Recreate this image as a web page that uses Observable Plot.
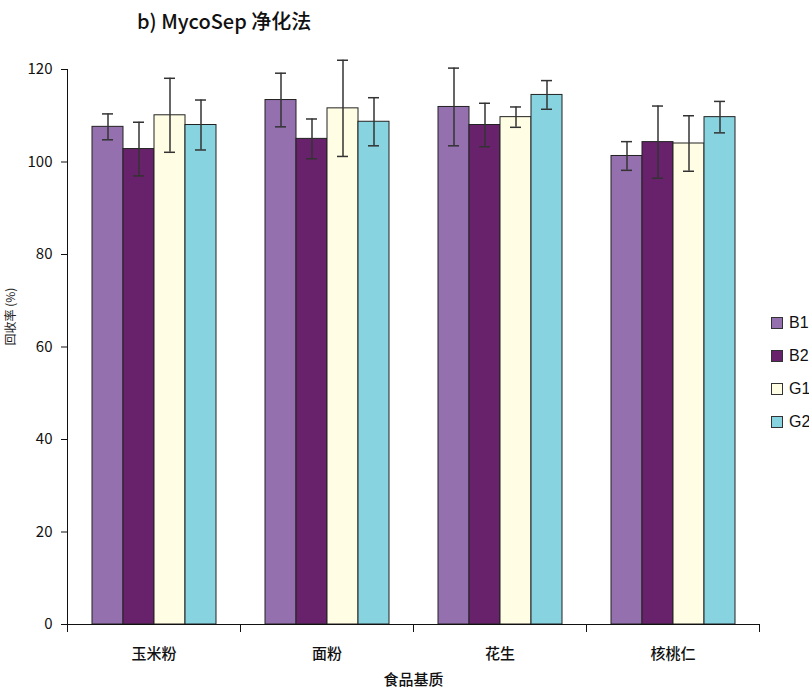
<!DOCTYPE html>
<html><head><meta charset="utf-8">
<script src="https://cdn.jsdelivr.net/npm/d3@7"></script>
<script src="https://cdn.jsdelivr.net/npm/@observablehq/plot@0.6"></script>
<style>
body{margin:0;background:#fff;font-family:"Liberation Sans Narrow","Liberation Sans","Noto Sans CJK SC",sans-serif;color:#111;}
#wrap{position:relative;width:809px;height:689px;overflow:hidden;}
#title{height:45px;box-sizing:border-box;padding-left:137px;padding-top:8px;font-size:20px;line-height:26px;font-weight:500;font-family:"Liberation Sans Narrow","Noto Sans CJK SC",sans-serif;}
#ylab{position:absolute;left:-36px;top:308px;width:90px;text-align:center;transform:rotate(-90deg);font-size:12px;font-family:"Noto Sans CJK SC",sans-serif;color:#222;}
#legend{position:absolute;left:771px;top:306px;font-size:16px;}
.row{display:flex;align-items:center;height:33px;}
.sw{width:10px;height:10px;border:1px solid #333;margin-right:6px;}
svg{display:block;}
</style></head>
<body>
<div id="wrap">
<div id="title">b) MycoSep 净化法</div>
<div id="chart"></div>
<div id="ylab">回收率 (%)</div>
<div id="legend"></div>
</div>
<script>
const categories = ["玉米粉", "面粉", "花生", "核桃仁"];
const series = ["B1", "B2", "G1", "G2"];
const colors = ["#9470ae", "#67226b", "#fffde3", "#87d4e0"];
const b1 = [107.6, 113.4, 111.9, 101.3];
const b2 = [102.8, 105.0, 108.0, 104.3];
const g1 = [110.1, 111.6, 109.7, 104.0];
const g2 = [108.0, 108.7, 114.5, 109.7];
const b1Err = [2.8, 5.8, 8.4, 3.1];
const b2Err = [5.8, 4.3, 4.7, 7.8];
const g1Err = [8.0, 10.4, 2.2, 6.0];
const g2Err = [5.4, 5.2, 3.1, 3.4];
const yTicks = [0, 20, 40, 60, 80, 100, 120];
const xTitle = "食品基质";

const vals = [b1, b2, g1, g2];
const errs = [b1Err, b2Err, g1Err, g2Err];
const data = [];
categories.forEach((c, i) => series.forEach((s, k) => data.push({cat: c, s, v: vals[k][i], e: errs[k][i]})));

const W = 809, H = 644, ML = 67, MR = 50;
const bw = (W - ML - MR) / categories.length;
const font = '"Liberation Sans Narrow","Noto Sans CJK SC",sans-serif';

const chart = Plot.plot({
  width: W, height: H,
  marginLeft: ML, marginRight: MR, marginTop: 24, marginBottom: 65,
  style: {fontFamily: font, fontSize: "15px", color: "#111", background: "#fff"},
  y: {domain: [0, 120]},
  fx: {domain: categories, padding: 0},
  x: {domain: series, paddingInner: 0, paddingOuter: 0.72, axis: null},
  color: {domain: series, range: colors},
  marks: [
    Plot.axisY({ticks: yTicks, tickSize: 6, tickPadding: 9, label: null, fontSize: 15}),
    Plot.frame({anchor: "left", facetAnchor: "left", stroke: "#111"}),
    Plot.barY(data, {fx: "cat", x: "s", y: "v", fill: "s", stroke: "#222", strokeWidth: 1}),
    Plot.ruleX(data, {fx: "cat", x: "s", y1: d => d.v - d.e, y2: d => d.v + d.e, stroke: "#333", strokeWidth: 1.5}),
    Plot.tickY(data, {fx: "cat", x: "s", y: d => d.v + d.e, stroke: "#333", strokeWidth: 1.5, insetLeft: 10, insetRight: 10}),
    Plot.tickY(data, {fx: "cat", x: "s", y: d => d.v - d.e, stroke: "#333", strokeWidth: 1.5, insetLeft: 10, insetRight: 10}),
    Plot.ruleY([0], {stroke: "#111"}),
    Plot.axisFx({anchor: "bottom", tickSize: 0, tickPadding: 24, fontSize: 15, fontWeight: 500, label: xTitle, labelAnchor: "center", labelOffset: 60}),
    Plot.axisFx({anchor: "bottom", tickSize: 8, tickFormat: () => "", label: null, dx: -bw / 2}),
    Plot.axisFx({anchor: "bottom", ticks: [categories[categories.length - 1]], tickSize: 8, tickFormat: () => "", label: null, dx: bw / 2})
  ]
});
document.getElementById("chart").appendChild(chart);

const leg = document.getElementById("legend");
series.forEach((s, k) => {
  const r = document.createElement("div"); r.className = "row";
  const sw = document.createElement("div"); sw.className = "sw"; sw.style.background = colors[k];
  const t = document.createElement("span"); t.textContent = s;
  r.appendChild(sw); r.appendChild(t); leg.appendChild(r);
});
</script>
</body></html>
